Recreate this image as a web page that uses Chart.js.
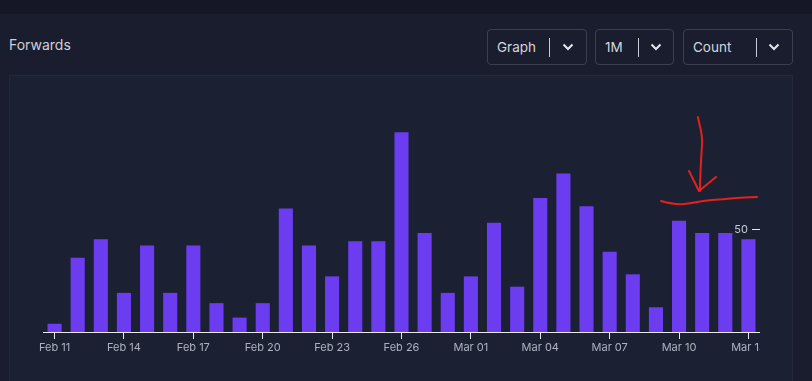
<!DOCTYPE html>
<html>
<head>
<meta charset="utf-8">
<script src="https://cdn.jsdelivr.net/npm/chart.js@4"></script>
<style>
    body { margin: 0; width: 812px; height: 381px; background: #1a1d2d; overflow: hidden; position: relative; font-family: Inter, 'Noto Sans', sans-serif; }
    .topbar { position: absolute; left: 0; top: 0; width: 812px; height: 14px; background: #151726; }
    .title { position: absolute; left: 9px; top: 36px; color: #cdd0da; font-size: 14px; }
    .select { position: absolute; top: 29px; height: 36px; border: 1px solid #3a3f52; border-radius: 4px; color: #d3d6de; font-size: 13.5px; box-sizing: border-box; }
    .select span { position: absolute; left: 9px; top: 9px; }
    .select .divider { position: absolute; top: 8px; width: 1px; height: 19px; background: #c9ccd5; }
    .select svg { position: absolute; top: 13px; }
    .panel { position: absolute; left: 9px; top: 75px; width: 784px; height: 320px; background: #1c2033; border: 1px solid #242839; box-sizing: border-box; }
    #wrap { position: absolute; left: 10px; top: 76px; width: 750px; height: 305px; }
    #notes { position: absolute; left: 0; top: 0; pointer-events: none; }
</style>
</head>
<body>
<div class="topbar"></div>
<div class="title">Forwards</div>

<div class="select" style="left:487px;width:100px"><span>Graph</span><div class="divider" style="left:61px"></div>
    <svg width="12" height="8" style="left:74px"><path d="M1.5 1.5 L6 6 L10.5 1.5" stroke="#e4e6ec" stroke-width="2" fill="none"/></svg></div>
<div class="select" style="left:595px;width:79px"><span>1M</span><div class="divider" style="left:42px"></div>
    <svg width="12" height="8" style="left:54px"><path d="M1.5 1.5 L6 6 L10.5 1.5" stroke="#e4e6ec" stroke-width="2" fill="none"/></svg></div>
<div class="select" style="left:683px;width:110px"><span>Count</span><div class="divider" style="left:72px"></div>
    <svg width="12" height="8" style="left:84px"><path d="M1.5 1.5 L6 6 L10.5 1.5" stroke="#e4e6ec" stroke-width="2" fill="none"/></svg></div>

<div class="panel"></div>
<div id="wrap"><canvas id="myChart"></canvas></div>

<!-- hand drawn red note on top of the screenshot -->
<svg id="notes" width="812" height="381">
    <path d="M698 117 C699 125 703 132 702 145 C701 160 700 175 700 191" stroke="#e3221c" stroke-width="2" fill="none" stroke-linecap="round"/>
    <path d="M689 171 L699 191 L716 177" stroke="#e3221c" stroke-width="2" fill="none" stroke-linecap="round" stroke-linejoin="round"/>
    <path d="M661 201 C668 203 675 205 684 204 C695 203 700 201 712 200 C728 199 740 197 757 197" stroke="#e3221c" stroke-width="2" fill="none" stroke-linecap="round"/>
</svg>

<script>
const xLabels = ['Feb 11', 'Feb 12', 'Feb 13', 'Feb 14', 'Feb 15', 'Feb 16', 'Feb 17', 'Feb 18', 'Feb 19', 'Feb 20',
    'Feb 21', 'Feb 22', 'Feb 23', 'Feb 24', 'Feb 25', 'Feb 26', 'Feb 27', 'Feb 28',
    'Mar 01', 'Mar 02', 'Mar 03', 'Mar 04', 'Mar 05', 'Mar 06', 'Mar 07', 'Mar 08', 'Mar 09', 'Mar 10',
    'Mar 11', 'Mar 12', 'Mar 13']
const forwards = [4, 36, 45, 19, 42, 19, 42, 14, 7, 14,
    60, 42, 27, 44, 44, 97, 48, 19,
    27, 53, 22, 65, 77, 61, 39, 28, 12, 54,
    48, 48, 45]
const yTicks = [50]
const yMax = 100

// the y axis only shows one label with a small dash, drawn from the y scale
const yTickMarks = {
    id: 'yTickMarks',
    afterDatasetsDraw(chart) {
        const ctx = chart.ctx
        const area = chart.chartArea
        ctx.save()
        ctx.strokeStyle = '#e8e9ef'
        ctx.lineWidth = 1
        ctx.fillStyle = '#c9ccd6'
        ctx.font = '11px Inter'
        ctx.textAlign = 'right'
        ctx.textBaseline = 'middle'
        for (let v of yTicks) {
            let y = Math.round(chart.scales.y.getPixelForValue(v)) + 0.5
            ctx.beginPath()
            ctx.moveTo(area.right - 8, y)
            ctx.lineTo(area.right, y)
            ctx.stroke()
            ctx.fillText(v, area.right - 12, y)
        }
        ctx.restore()
    }
}

Chart.defaults.font.family = 'Inter'

const ctx = document.getElementById('myChart').getContext('2d')
const myChart = new Chart(ctx, {
    type: 'bar',
    data: {
        labels: xLabels,
        datasets: [{
            label: 'Forwards',
            data: forwards,
            backgroundColor: '#6b3cf0',
            categoryPercentage: 1,
            barPercentage: 0.61
        }]
    },
    options: {
        responsive: true,
        maintainAspectRatio: false,
        animation: false,
        layout: { padding: { left: 33, top: 50, right: 0, bottom: 9 } },
        plugins: { legend: { display: false }, tooltip: { enabled: false } },
        scales: {
            x: {
                grid: { drawOnChartArea: false, offset: false, tickLength: 7, color: '#e8e9ef' },
                border: { color: '#e8e9ef', width: 1 },
                ticks: {
                    color: '#aeb2c0',
                    font: { size: 11 },
                    padding: 2,
                    maxRotation: 0,
                    autoSkip: false,
                    callback: (v, i) => i % 3 === 0 ? xLabels[i] : null
                },
                afterFit: s => { s.height = 40; s.paddingLeft = 0; s.paddingRight = 0 }
            },
            y: {
                display: false,
                min: 0,
                max: yMax
            }
        }
    },
    plugins: [yTickMarks]
})
</script>
</body>
</html>
